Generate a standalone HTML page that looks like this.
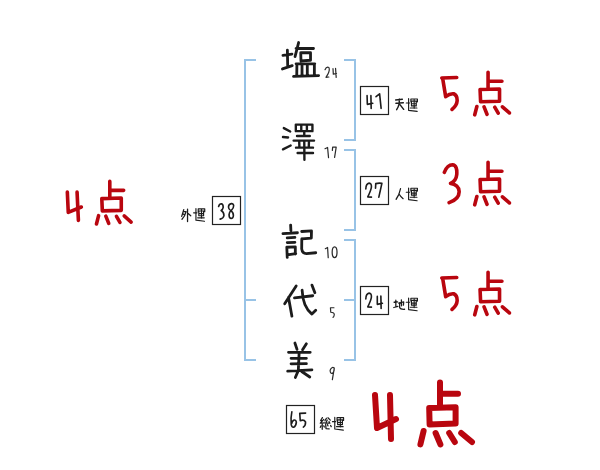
<!DOCTYPE html>
<html><head><meta charset="utf-8"><style>
html,body{margin:0;padding:0;background:#fff;}
body{width:600px;height:470px;overflow:hidden;font-family:"Liberation Sans",sans-serif;}
svg{display:block;}
</style></head><body>
<svg width="600" height="470" viewBox="0 0 600 470">
<line x1="245" y1="59" x2="245" y2="361" stroke="#98c3e6" stroke-width="2"/>
<line x1="244" y1="60" x2="256" y2="60" stroke="#98c3e6" stroke-width="2"/>
<line x1="244" y1="300" x2="256" y2="300" stroke="#98c3e6" stroke-width="2"/>
<line x1="244" y1="360" x2="256" y2="360" stroke="#98c3e6" stroke-width="2"/>
<line x1="355" y1="59" x2="355" y2="141" stroke="#98c3e6" stroke-width="2"/>
<line x1="344" y1="60" x2="356" y2="60" stroke="#98c3e6" stroke-width="2"/>
<line x1="344" y1="140" x2="356" y2="140" stroke="#98c3e6" stroke-width="2"/>
<line x1="355" y1="149" x2="355" y2="231" stroke="#98c3e6" stroke-width="2"/>
<line x1="344" y1="150" x2="356" y2="150" stroke="#98c3e6" stroke-width="2"/>
<line x1="344" y1="230" x2="356" y2="230" stroke="#98c3e6" stroke-width="2"/>
<line x1="355" y1="239" x2="355" y2="361" stroke="#98c3e6" stroke-width="2"/>
<line x1="344" y1="240" x2="356" y2="240" stroke="#98c3e6" stroke-width="2"/>
<line x1="344" y1="360" x2="356" y2="360" stroke="#98c3e6" stroke-width="2"/>
<line x1="344" y1="300" x2="356" y2="300" stroke="#98c3e6" stroke-width="2"/>
<rect x="360.5" y="86.5" width="28" height="28" fill="none" stroke="#222" stroke-width="1.2"/>
<rect x="360.5" y="176.5" width="28" height="28" fill="none" stroke="#222" stroke-width="1.2"/>
<rect x="360.5" y="286.5" width="28" height="28" fill="none" stroke="#222" stroke-width="1.2"/>
<rect x="212.5" y="196.5" width="28" height="28" fill="none" stroke="#222" stroke-width="1.2"/>
<rect x="286.5" y="405.5" width="28" height="28" fill="none" stroke="#222" stroke-width="1.2"/>
<g transform="translate(285,40) scale(0.085106)"><path d="M-24,180 L82,165 M28,120 L32,315 M-30,340 L85,302 M160,30 L118,195 M130,100 L335,100 M185,150 L188,248 M185,150 L300,150 L300,235 M188,245 L300,238 M130,280 L350,280 M140,280 L138,420 M200,300 L200,418 M262,300 L262,418 M345,280 L345,418 M100,428 L395,418" fill="none" stroke="#1c1c1c" stroke-width="33" stroke-linecap="round" stroke-linejoin="round"/></g>
<g transform="translate(280,120) scale(0.085106)"><path d="M45,95 L120,135 M35,200 L95,205 M35,345 L125,300 M186,54 L381,54 L381,131 L186,131 Z M250,60 L250,128 M316,60 L316,128 M285,131 L285,188 M200,188 L350,188 M160,242 L400,242 M226,258 L228,322 M340,258 L338,322 M188,325 L388,325 M207,387 L388,387 M285,245 L287,468" fill="none" stroke="#1c1c1c" stroke-width="28" stroke-linecap="round" stroke-linejoin="round"/></g>
<g transform="translate(280,220) scale(0.085106)"><path d="M125,60 L128,125 M35,160 L205,150 M85,210 L175,205 M85,265 L175,262 M80,320 L85,440 M80,320 L180,315 L180,400 M85,410 L185,395 M255,135 L370,128 L368,212 L258,222 M256,222 L255,340 Q262,395 310,395 L420,385" fill="none" stroke="#1c1c1c" stroke-width="33" stroke-linecap="round" stroke-linejoin="round"/></g>
<g transform="translate(280,280) scale(0.085106)"><path d="M190,70 L55,280 M100,205 L140,425 M170,210 L385,185 M260,120 C265,250 300,340 375,400 L420,355 M375,60 L410,150" fill="none" stroke="#1c1c1c" stroke-width="33" stroke-linecap="round" stroke-linejoin="round"/></g>
<g transform="translate(280,340) scale(0.085106)"><path d="M175,35 L200,110 M310,45 L265,115 M100,145 L355,145 M130,215 L310,215 M130,280 L310,278 M90,365 L375,350 M225,145 L215,360 L180,440 M255,370 L350,435" fill="none" stroke="#1c1c1c" stroke-width="33" stroke-linecap="round" stroke-linejoin="round"/></g>
<g transform="translate(318,55) scale(0.063830)"><path d="M110,230 Q130,180 170,195 Q190,230 155,300 L125,350 L170,345 M235,215 L240,300 L290,290 M275,210 L285,350" fill="none" stroke="#2a2a2a" stroke-width="19" stroke-linecap="round" stroke-linejoin="round"/></g>
<g transform="translate(318,135) scale(0.063830)"><path d="M110,215 L150,195 L165,355 M225,240 L230,190 L285,190 L260,350" fill="none" stroke="#2a2a2a" stroke-width="19" stroke-linecap="round" stroke-linejoin="round"/></g>
<g transform="translate(318,235) scale(0.063830)"><path d="M115,215 L150,195 L160,355" fill="none" stroke="#2a2a2a" stroke-width="19" stroke-linecap="round" stroke-linejoin="round"/></g>
<ellipse cx="334.596" cy="252.234" rx="2.426" ry="5.426" fill="none" stroke="#2a2a2a" stroke-width="1.25"/>
<g transform="translate(318,295) scale(0.063830)"><path d="M250,200 L195,200 L200,270 Q255,270 255,310 Q250,345 235,350" fill="none" stroke="#2a2a2a" stroke-width="19" stroke-linecap="round" stroke-linejoin="round"/></g>
<g transform="translate(318,355) scale(0.063830)"><path d="M255,205 Q215,175 190,240 Q190,300 230,285 Q260,250 255,205 L225,385" fill="none" stroke="#2a2a2a" stroke-width="19" stroke-linecap="round" stroke-linejoin="round"/></g>
<g transform="translate(355,80) scale(0.085106)"><path d="M142,184 L145,286 L208,274 M187,184 L190,334 M247,196 L289,163 L307,334" fill="none" stroke="#1c1c1c" stroke-width="19" stroke-linecap="round" stroke-linejoin="round"/></g>
<g transform="translate(355,170) scale(0.085106)"><path d="M127,223 Q128,160 166,154 Q195,155 193,200 Q188,240 150,316 L193,319 M241,214 L244,160 Q280,150 316,157 Q300,230 280,319" fill="none" stroke="#1c1c1c" stroke-width="19" stroke-linecap="round" stroke-linejoin="round"/></g>
<g transform="translate(355,280) scale(0.085106)"><path d="M127,223 Q128,160 166,154 Q195,155 193,200 Q188,240 150,316 L193,319 M262,193 L262,286 L322,274 M304,190 L307,334" fill="none" stroke="#1c1c1c" stroke-width="19" stroke-linecap="round" stroke-linejoin="round"/></g>
<g transform="translate(280,400) scale(0.085106)"><path d="M139,139 Q125,200 132,290 Q140,325 160,320 Q190,305 192,260 Q188,228 160,238 Q142,250 138,275 M301,154 L232,157 L238,244 Q280,225 300,258 Q302,300 274,319" fill="none" stroke="#1c1c1c" stroke-width="19" stroke-linecap="round" stroke-linejoin="round"/></g>
<g transform="translate(205,190) scale(0.085034)"><path d="M160,193 Q170,160 195,162 Q215,168 214,205 Q210,228 190,241 Q222,258 223,300 Q218,335 178,343 M337,184 Q335,158 310,160 Q278,165 276,200 Q278,228 300,240 Q335,262 334,300 Q332,336 305,334 Q283,330 283,290 Q285,255 310,240 Q338,215 337,184" fill="none" stroke="#1c1c1c" stroke-width="19" stroke-linecap="round" stroke-linejoin="round"/></g>
<g transform="translate(390,180) scale(0.058333)"><path d="M180,150 Q160,260 105,330 M152,235 Q185,290 225,320" fill="none" stroke="#1c1c1c" stroke-width="22" stroke-linecap="round" stroke-linejoin="round"/></g>
<g transform="translate(390.0,180.0) scale(0.058333)"><path d="M319,137 L319,336 M279,210 L337,210 M319,336 L465,355 M358,190 L358,142 L470,142 L470,190 M362,178 L462,178 M368,178 L368,260 M450,178 L450,260 M368,224 L450,224 M368,260 L450,260 M349,296 L462,296 M414,158 L414,302" fill="none" stroke="#1c1c1c" stroke-width="20" stroke-linecap="round" stroke-linejoin="round"/></g>
<g transform="translate(390,90) scale(0.066667)"><path d="M85,150 L185,140 M90,200 L200,192 M140,140 L138,205 Q125,260 100,295 M150,220 L205,290" fill="none" stroke="#1c1c1c" stroke-width="22" stroke-linecap="round" stroke-linejoin="round"/></g>
<g transform="translate(390.0,90.71666666666667) scale(0.058333)"><path d="M319,137 L319,336 M279,210 L337,210 M319,336 L465,355 M358,190 L358,142 L470,142 L470,190 M362,178 L462,178 M368,178 L368,260 M450,178 L450,260 M368,224 L450,224 M368,260 L450,260 M349,296 L462,296 M414,158 L414,302" fill="none" stroke="#1c1c1c" stroke-width="20" stroke-linecap="round" stroke-linejoin="round"/></g>
<g transform="translate(390,290) scale(0.058333)"><path d="M70,210 L130,205 M100,175 L100,290 M65,300 L135,280 M150,225 L235,205 L230,260 M195,170 L198,270 M165,215 L165,300 Q180,335 250,330" fill="none" stroke="#1c1c1c" stroke-width="22" stroke-linecap="round" stroke-linejoin="round"/></g>
<g transform="translate(390.0,290.0) scale(0.058333)"><path d="M319,137 L319,336 M279,210 L337,210 M319,336 L465,355 M358,190 L358,142 L470,142 L470,190 M362,178 L462,178 M368,178 L368,260 M450,178 L450,260 M368,224 L450,224 M368,260 L450,260 M349,296 L462,296 M414,158 L414,302" fill="none" stroke="#1c1c1c" stroke-width="20" stroke-linecap="round" stroke-linejoin="round"/></g>
<g transform="translate(175,200) scale(0.058333)"><path d="M150,165 L115,280 M140,200 L190,200 Q170,280 120,330 M135,235 L165,255 M215,155 L215,370 M225,230 L270,270" fill="none" stroke="#1c1c1c" stroke-width="22" stroke-linecap="round" stroke-linejoin="round"/></g>
<g transform="translate(177.33333333333331,200.58333333333331) scale(0.058333)"><path d="M319,137 L319,336 M279,210 L337,210 M319,336 L465,355 M358,190 L358,142 L470,142 L470,190 M362,178 L462,178 M368,178 L368,260 M450,178 L450,260 M368,224 L450,224 M368,260 L450,260 M349,296 L462,296 M414,158 L414,302" fill="none" stroke="#1c1c1c" stroke-width="20" stroke-linecap="round" stroke-linejoin="round"/></g>
<g transform="translate(315,410) scale(0.058333)"><path d="M127,131 L97,180 L130,184 M150,161 L91,226 L163,220 M124,226 L124,331 M101,272 L91,298 M150,272 L160,292 M196,141 L170,184 M222,134 L262,174 M209,174 L183,226 L248,220 M242,200 L255,226 M183,246 L189,318 L242,325 M216,252 L222,272 M268,266 L278,285" fill="none" stroke="#1c1c1c" stroke-width="22" stroke-linecap="round" stroke-linejoin="round"/></g>
<g transform="translate(316.1666666666667,409.4166666666667) scale(0.058333)"><path d="M319,137 L319,336 M279,210 L337,210 M319,336 L465,355 M358,190 L358,142 L470,142 L470,190 M362,178 L462,178 M368,178 L368,260 M450,178 L450,260 M368,224 L450,224 M368,260 L450,260 M349,296 L462,296 M414,158 L414,302" fill="none" stroke="#1c1c1c" stroke-width="20" stroke-linecap="round" stroke-linejoin="round"/></g>
<g transform="translate(435,70) scale(0.133333)"><path d="M51,60 L163,56 M57,60 L80,200 Q110,175 140,178 Q168,190 166,232 Q164,265 128,296 M398,17 L398,140 M404,84 L502,84 M338,146 L342,238 M338,146 L484,142 L484,234 M342,238 L484,234 M314,274 L298,336 M368,277 L390,332 M448,279 L474,324 M506,276 L558,322" fill="none" stroke="#b9060f" stroke-width="27" stroke-linecap="round" stroke-linejoin="round"/></g>
<g transform="translate(435,160) scale(0.133333)"><path d="M70,93 C85,55 110,36 131,36 C160,38 166,70 163,110 C160,145 140,165 117,176 C150,180 178,200 181,235 C183,275 160,300 106,320 M398,17 L398,140 M404,84 L502,84 M338,146 L342,238 M338,146 L484,142 L484,234 M342,238 L484,234 M314,274 L298,336 M368,277 L390,332 M448,279 L474,324 M506,276 L558,322" fill="none" stroke="#b9060f" stroke-width="27" stroke-linecap="round" stroke-linejoin="round"/></g>
<g transform="translate(435,270) scale(0.133333)"><path d="M51,60 L163,56 M57,60 L80,200 Q110,175 140,178 Q168,190 166,232 Q164,265 128,296 M398,17 L398,140 M404,84 L502,84 M338,146 L342,238 M338,146 L484,142 L484,234 M342,238 L484,234 M314,274 L298,336 M368,277 L390,332 M448,279 L474,324 M506,276 L558,322" fill="none" stroke="#b9060f" stroke-width="27" stroke-linecap="round" stroke-linejoin="round"/></g>
<g transform="translate(60,175) scale(0.133333)"><path d="M55,128 L62,280 L160,240 M128,128 L138,340" fill="none" stroke="#b9060f" stroke-width="27" stroke-linecap="round" stroke-linejoin="round"/></g>
<g transform="translate(56.73333333333333,179.13333333333333) scale(0.133333)"><path d="M398,17 L398,140 M404,84 L502,84 M338,146 L342,238 M338,146 L484,142 L484,234 M342,238 L484,234 M314,274 L298,336 M368,277 L390,332 M448,279 L474,324 M506,276 L558,322" fill="none" stroke="#b9060f" stroke-width="27" stroke-linecap="round" stroke-linejoin="round"/></g>
<g transform="translate(360,370) scale(0.200000)"><path d="M75,125 L85,290 L180,245 M150,125 L155,345" fill="none" stroke="#b9060f" stroke-width="30" stroke-linecap="round" stroke-linejoin="round"/></g>
<g transform="translate(360,370) scale(0.200000)"><path d="M400,62 L400,172 M405,119 L490,119 M346,190 L348,270 M346,190 L478,186 L478,268 M348,272 L478,268 M318,305 L302,372 M378,315 L402,372 M446,315 L474,360 M506,315 L560,360" fill="none" stroke="#b9060f" stroke-width="30" stroke-linecap="round" stroke-linejoin="round"/></g>
</svg>
</body></html>
